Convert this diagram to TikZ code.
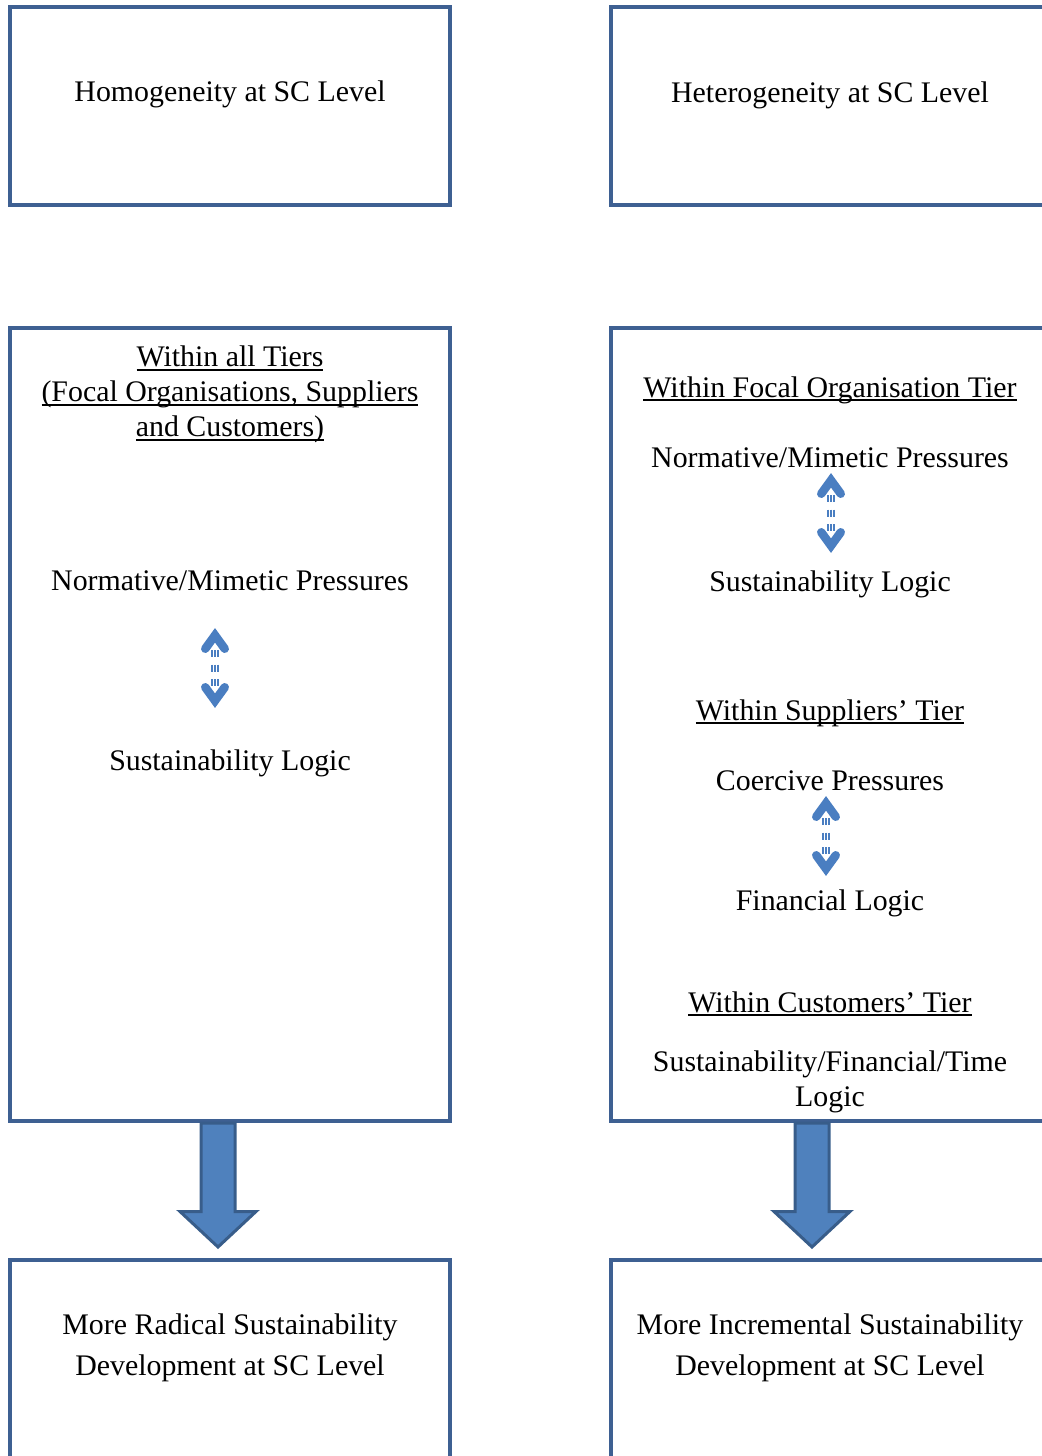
\documentclass[tikz,border=0pt]{standalone}
\usepackage{fontspec}
\setmainfont{Liberation Serif}
\usepackage{xcolor}
\usepackage{tikz}
\usetikzlibrary{calc}

\definecolor{boxblue}{RGB}{62,96,146}
\definecolor{arrowfill}{RGB}{79,129,189}
\definecolor{arrowline}{RGB}{56,93,138}
\definecolor{dblblue}{RGB}{74,126,193}

% underline at a fixed depth below the baseline
\newcommand{\undertext}[1]{\setbox0\hbox{#1}\rlap{\rule[-0.13em]{\wd0}{0.05em}}\box0}
% two-way striped arrow, #1 = top apex, #2 = bottom apex
\newcommand{\pressarrow}[2]{%
  \foreach \dx in {-0.06,0,0.06}
    \draw[stripe] ($(#1)+(\dx,-0.44)$) -- ($(#2)+(\dx,0.44)$);
  \draw[chevron] ($(#1)+(-0.195,-0.415)$) -- ($(#1)+(0,-0.146)$) -- ($(#1)+(0.195,-0.415)$);
  \draw[chevron] ($(#2)+(-0.195,0.415)$) -- ($(#2)+(0,0.146)$) -- ($(#2)+(0.195,0.415)$);
}
% block arrow, #1 = base centre, #2 = tip
\newcommand{\fatdown}[2]{%
  \draw[fatarrow] ($(#1)+(-0.34,0)$) -- ($(#2)+(-0.34,0.71)$) -- ($(#2)+(-0.76,0.71)$) -- (#2)
    -- ($(#2)+(0.76,0.71)$) -- ($(#2)+(0.34,0.71)$) -- ($(#1)+(0.34,0)$) -- cycle;
}

\begin{document}
\begin{tikzpicture}[
  box/.style={draw=boxblue, line width=0.08cm, fill=white, minimum width=8.8cm, inner sep=0pt},
  lines/.style={inner sep=0pt, align=center, font=\fontsize{17}{19.9}\selectfont},
  txt/.style={lines, text height=0.68em, text depth=0.22em},
  lineswide/.style={lines, font=\fontsize{17}{23.3}\selectfont},
  stripe/.style={dblblue, line width=0.035cm, dash pattern=on 0.14cm off 0.15cm},
  chevron/.style={dblblue, line width=0.17cm, line cap=round, line join=miter},
  fatarrow/.style={draw=arrowline, fill=arrowfill, line width=0.06cm, line join=miter}]
\useasboundingbox (0,0) rectangle (20.84,-29.12);
\clip (0,0) rectangle (20.84,-29.12);
% Box 1: Homogeneity
\node[box, minimum height=3.96cm] (homB) at (4.6,-2.12) {};
\node[txt] (homT) at (4.6,-1.94) {Homogeneity at SC Level};
% Box 2: Heterogeneity
\node[box, minimum height=3.96cm] (hetB) at (16.62,-2.12) {};
\node[txt] (hetT) at (16.6,-1.96) {Heterogeneity at SC Level};
% Box 3: All tiers
\node[box, minimum height=15.86cm] (allB) at (4.6,-14.49) {};
\node[lines] (allT) at (4.6,-7.89) {\undertext{Within all Tiers}\\\undertext{(Focal Organisations, Suppliers}\\\undertext{and Customers)}};
\node[txt] (normL) at (4.6,-11.72) {Normative/Mimetic Pressures};
\node[txt] (logicL) at (4.6,-15.32) {Sustainability Logic};
% Box 4: Separate tiers
\node[box, minimum height=15.86cm] (tierB) at (16.62,-14.49) {};
\node[txt] (focT) at (16.6,-7.86) {\undertext{Within Focal Organisation Tier}};
\node[txt] (normR) at (16.6,-9.26) {Normative/Mimetic Pressures};
\node[txt] (susR) at (16.6,-11.74) {Sustainability Logic};
\node[txt] (supT) at (16.6,-14.32) {\undertext{Within Suppliers’ Tier}};
\node[txt] (coerR) at (16.6,-15.72) {Coercive Pressures};
\node[txt] (finR) at (16.6,-18.12) {Financial Logic};
\node[txt] (custT) at (16.6,-20.16) {\undertext{Within Customers’ Tier}};
\node[lines] (mixR) at (16.6,-21.63) {Sustainability/Financial/Time\\Logic};
% Box 5: Radical
\node[box, minimum height=4.4cm] (radB) at (4.6,-27.4) {};
\node[lineswide] (radT) at (4.6,-26.95) {More Radical Sustainability\\Development at SC Level};
% Box 6: Incremental
\node[box, minimum height=4.4cm] (incB) at (16.62,-27.4) {};
\node[lineswide] (incT) at (16.6,-26.95) {More Incremental Sustainability\\Development at SC Level};
% Two-way arrows
\coordinate (upL) at ($(normL)+(-0.3,-0.84)$);
\coordinate (dnL) at ($(logicL)+(-0.3,1.16)$);
\pressarrow{upL}{dnL}
\coordinate (upR1) at ($(normR)+(0.02,-0.2)$);
\coordinate (dnR1) at ($(susR)+(0.02,0.68)$);
\pressarrow{upR1}{dnR1}
\coordinate (upR2) at ($(coerR)+(-0.08,-0.2)$);
\coordinate (dnR2) at ($(finR)+(-0.08,0.6)$);
\pressarrow{upR2}{dnR2}
% Block arrows
\coordinate (baseL) at ([xshift=-0.24cm]allB.south);
\coordinate (tipL) at ([xshift=-0.24cm,yshift=0.22cm]radB.north);
\fatdown{baseL}{tipL}
\coordinate (baseR) at ([xshift=-0.38cm]tierB.south);
\coordinate (tipR) at ([xshift=-0.38cm,yshift=0.22cm]incB.north);
\fatdown{baseR}{tipR}
\end{tikzpicture}
\end{document}
